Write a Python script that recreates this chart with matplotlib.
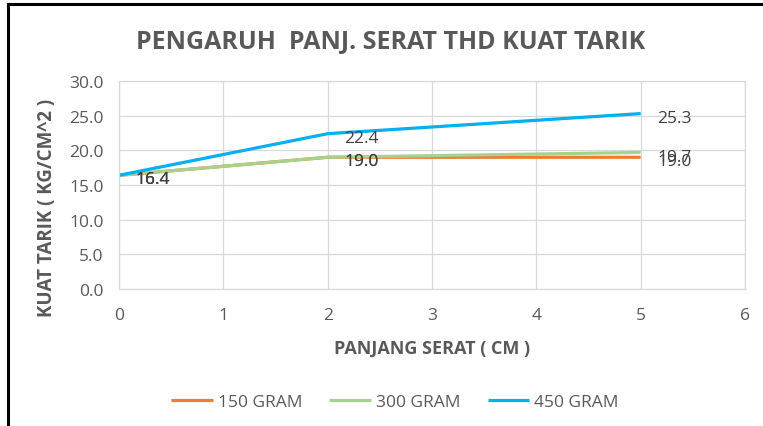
import matplotlib.pyplot as plt
from matplotlib.lines import Line2D

plt.rcParams['font.family'] = ['Open Sans', 'DejaVu Sans']

panjang = [0, 2, 5]
gram150 = [16.4, 19.0, 19.0]
gram300 = [16.4, 19.0, 19.7]
gram450 = [16.4, 22.4, 25.3]
series_names = ['150 GRAM', '300 GRAM', '450 GRAM']
colors = ['#ED7D31', '#A9D18E', '#00B0F0']

fig = plt.figure(figsize=(7.63, 4.27), dpi=100)
ax = fig.add_axes([119/763, 137/427, 626/763, 208/427])

for vals, name, c in zip([gram150, gram300, gram450], series_names, colors):
    ax.plot(panjang, vals, color=c, linewidth=2.3, label=name, solid_capstyle='butt')
    for xv, yv in zip(panjang, vals):
        ax.annotate(f'{yv:.1f}', (xv, yv), xytext=(12, -3), textcoords='offset points',
                    ha='left', va='center', fontsize=12.5, color='#404040')

ax.set_xlim(0, 6)
ax.set_ylim(0, 30)
ax.set_xticks(range(0, 7))
ax.set_yticks([0, 5, 10, 15, 20, 25, 30])
ax.set_yticklabels([f'{v:.1f}' for v in [0, 5, 10, 15, 20, 25, 30]])
ax.grid(True, color='#D9D9D9', linewidth=0.9)
ax.set_axisbelow(True)
for s in ax.spines.values():
    s.set_color('#D9D9D9')
    s.set_linewidth(0.9)
ax.tick_params(axis='y', length=0, labelsize=12.5, labelcolor='#595959', pad=11)
ax.tick_params(axis='x', length=0, labelsize=12.5, labelcolor='#595959', pad=13)

ax.set_xlabel('PANJANG SERAT ( CM )', fontsize=13, fontweight='bold', color='#595959')
ax.set_ylabel('KUAT TARIK ( KG/CM^2 )', fontsize=13.5, fontweight='bold', color='#595959')
ax.xaxis.set_label_coords(313/626, -50/208)
ax.yaxis.set_label_coords(-62/626, 82/208)

fig.text(391/763, 1 - 42/427, 'PENGARUH  PANJ. SERAT THD KUAT TARIK', ha='center', va='center',
         fontsize=18, fontweight='bold', color='#595959')

fig.legend(loc='center', bbox_to_anchor=(395/763, 1 - 403/427), ncol=3, frameon=False,
           fontsize=12.5, labelcolor='#595959', handlelength=2.4, columnspacing=1.55, handletextpad=0.3)

fig.add_artist(Line2D([8/763, 8/763], [0, 1 - 5/427], color='black', linewidth=2.2, transform=fig.transFigure))
fig.add_artist(Line2D([8/763, 1], [1 - 5/427, 1 - 5/427], color='black', linewidth=2.2, transform=fig.transFigure))

fig.savefig('out.png', dpi=100)
